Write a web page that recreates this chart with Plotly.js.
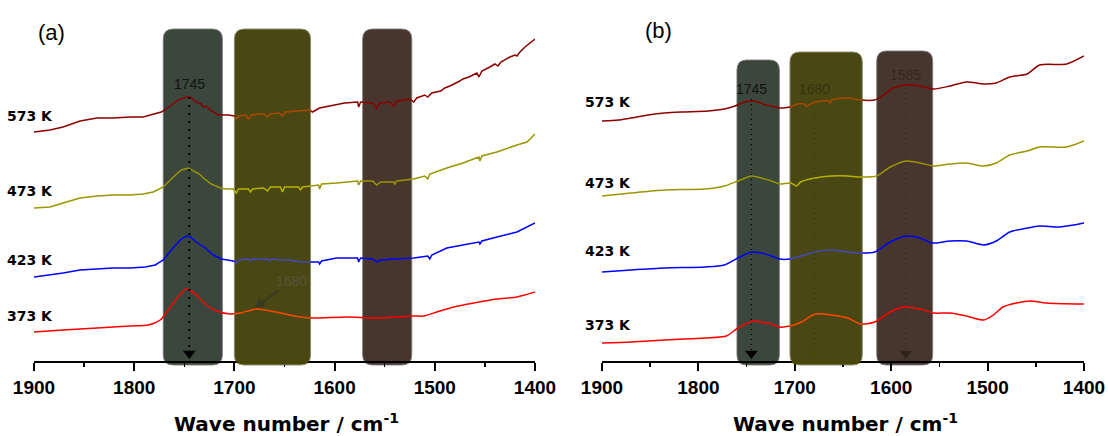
<!DOCTYPE html>
<html>
<head>
<meta charset="utf-8">
<script src="https://cdn.plot.ly/plotly-3.0.1.min.js"></script>
<style>
  html, body { margin: 0; padding: 0; background: #ffffff; }
  #chart { width: 1108px; height: 436px; }
</style>
</head>
<body>
<div id="chart"></div>
<script>
// ---- Spectra, panel (a): wavenumber (cm-1) and offset absorbance (a.u.) ----
const wnA573 = [1900,1884,1871,1854,1837,1821,1804,1791,1784,1773,1764,1756,1748,1744,1738,1733,1731,1728,1723,1716,1711,1706,1700,1698,1696,1689,1686,1683,1675,1670,1667,1664,1655,1652,1649,1640,1625,1622,1615,1605,1590,1577,1576,1574,1562,1558,1555,1545,1541,1538,1525,1521,1518,1510,1507,1503,1494,1490,1485,1475,1472,1466,1458,1456,1453,1445,1440,1437,1434,1425,1420,1418,1415,1410,1405,1400];
const absA573 = [2.29,2.31,2.34,2.40,2.43,2.43,2.44,2.44,2.46,2.49,2.55,2.61,2.64,2.64,2.59,2.57,2.54,2.55,2.50,2.46,2.46,2.46,2.45,2.42,2.45,2.46,2.42,2.46,2.47,2.47,2.44,2.47,2.48,2.45,2.49,2.50,2.51,2.49,2.53,2.55,2.58,2.59,2.54,2.59,2.58,2.53,2.58,2.59,2.55,2.60,2.62,2.59,2.63,2.66,2.64,2.68,2.70,2.73,2.75,2.80,2.82,2.84,2.88,2.84,2.90,2.94,2.97,2.95,2.99,3.04,3.06,3.05,3.09,3.14,3.18,3.22];

const wnA473 = [1900,1884,1871,1854,1837,1821,1804,1791,1781,1771,1761,1753,1746,1739,1735,1731,1723,1714,1708,1701,1698,1696,1686,1684,1682,1671,1667,1664,1654,1652,1650,1636,1634,1632,1616,1615,1613,1598,1577,1576,1574,1562,1558,1554,1541,1540,1538,1521,1510,1507,1505,1488,1472,1456,1455,1453,1438,1418,1408,1400];
const absA473 = [1.53,1.54,1.58,1.63,1.65,1.66,1.66,1.67,1.69,1.74,1.84,1.91,1.93,1.89,1.87,1.83,1.77,1.73,1.72,1.72,1.68,1.72,1.72,1.69,1.72,1.73,1.70,1.74,1.74,1.69,1.74,1.74,1.71,1.74,1.76,1.72,1.77,1.78,1.80,1.76,1.80,1.80,1.76,1.79,1.79,1.77,1.80,1.82,1.85,1.82,1.87,1.93,1.98,2.04,2.00,2.05,2.09,2.16,2.19,2.27];

const wnA423 = [1900,1884,1871,1854,1837,1821,1804,1789,1779,1771,1763,1754,1748,1744,1738,1729,1721,1713,1701,1698,1696,1686,1684,1682,1667,1665,1663,1654,1645,1634,1616,1615,1613,1598,1577,1576,1574,1562,1558,1554,1540,1521,1507,1505,1503,1488,1472,1456,1455,1453,1438,1418,1400];
const absA423 = [0.84,0.86,0.88,0.91,0.92,0.93,0.93,0.94,0.96,1.01,1.11,1.21,1.25,1.24,1.19,1.13,1.06,1.02,1.00,0.98,1.01,1.02,1.00,1.02,1.02,1.00,1.02,1.01,1.01,0.99,0.99,0.97,1.00,1.03,1.03,0.99,1.03,1.02,0.99,1.01,1.02,1.03,1.05,1.02,1.06,1.13,1.16,1.19,1.17,1.20,1.24,1.29,1.38];

const wnA373 = [1900,1871,1837,1804,1786,1774,1768,1761,1754,1748,1743,1736,1728,1718,1704,1694,1678,1664,1654,1645,1634,1621,1588,1558,1521,1511,1498,1481,1461,1438,1418,1400];
const absA373 = [0.29,0.31,0.33,0.35,0.36,0.41,0.48,0.58,0.67,0.72,0.70,0.64,0.56,0.50,0.47,0.48,0.52,0.50,0.48,0.46,0.44,0.43,0.44,0.43,0.45,0.45,0.49,0.54,0.58,0.62,0.64,0.69];

// ---- Spectra, panel (b) ----
const wnB573 = [1900,1883,1870,1852,1835,1818,1790,1773,1762,1752,1743,1735,1731,1724,1716,1705,1697,1690,1688,1679,1665,1663,1662,1645,1632,1617,1608,1598,1584,1570,1556,1539,1522,1504,1491,1477,1459,1446,1418,1400];
const absB573 = [2.40,2.41,2.43,2.46,2.48,2.49,2.50,2.52,2.55,2.59,2.60,2.58,2.56,2.55,2.53,2.54,2.57,2.57,2.55,2.59,2.60,2.58,2.61,2.63,2.61,2.61,2.66,2.73,2.76,2.75,2.72,2.75,2.79,2.77,2.78,2.84,2.87,2.96,2.97,3.05];

const wnB473 = [1900,1870,1835,1793,1773,1759,1745,1735,1724,1716,1704,1698,1694,1679,1662,1645,1632,1615,1601,1584,1570,1556,1539,1522,1504,1491,1477,1459,1446,1418,1400];
const absB473 = [1.65,1.68,1.71,1.72,1.75,1.80,1.85,1.83,1.80,1.77,1.78,1.75,1.79,1.83,1.85,1.85,1.84,1.85,1.94,2.00,1.98,1.95,1.97,1.98,1.95,1.98,2.06,2.10,2.14,2.14,2.20];

const wnB423 = [1900,1870,1835,1793,1773,1759,1745,1735,1724,1716,1705,1697,1679,1662,1645,1632,1617,1601,1584,1570,1558,1539,1522,1504,1491,1477,1459,1446,1425,1400];
const absB423 = [0.89,0.91,0.93,0.94,0.96,1.03,1.09,1.08,1.05,1.02,1.02,1.04,1.09,1.11,1.09,1.08,1.09,1.19,1.25,1.23,1.18,1.20,1.20,1.16,1.20,1.29,1.33,1.35,1.34,1.38];

const wnB373 = [1900,1870,1835,1793,1771,1759,1743,1735,1724,1716,1705,1693,1679,1662,1645,1632,1617,1601,1588,1570,1556,1539,1522,1504,1494,1484,1470,1456,1439,1400];
const absB373 = [0.18,0.19,0.21,0.23,0.25,0.33,0.40,0.39,0.37,0.34,0.35,0.39,0.47,0.46,0.43,0.37,0.39,0.49,0.54,0.52,0.48,0.48,0.45,0.41,0.46,0.54,0.58,0.60,0.58,0.57];

// ---- Labels and marked bands ----
const temps = ['573 K', '473 K', '423 K', '373 K'];
const colors = ['#8b0000', '#9a9600', '#0000ff', '#ff0000'];
const peaksA = [1745];
const peaksB = [1745, 1680, 1585];
const Y_MAX = 3.61;

// band: [high cm-1, low cm-1, top (a.u.), fill]
const bandsA = [[1771, 1712, 3.32, 'slate'], [1700, 1624, 3.32, 'olive'], [1572, 1523, 3.32, 'brown']];
const bandsB = [[1760, 1716, 3.01, 'slate'], [1705, 1630, 3.09, 'olive'], [1615, 1557, 3.10, 'brown']];
const BAND_BOTTOM = -0.04;

const fills = { slate: '#3b473c', olive: '#04001c', brown: '#47362d' };
const FONT = 'Liberation Sans, Arial, sans-serif';
const BOLD = 'DejaVu Sans, Verdana, sans-serif';

function line(x, y, color, xa, smooth) {
  const l = { color: color, width: 1.5 };
  if (smooth) { l.shape = 'spline'; l.smoothing = 0.7; }
  return { x: x, y: y, xaxis: xa, yaxis: 'y', mode: 'lines', hoverinfo: 'skip', line: l };
}

const traces = [
  line(wnA573, absA573, colors[0], 'x', false), line(wnA473, absA473, colors[1], 'x', false),
  line(wnA423, absA423, colors[2], 'x', false), line(wnA373, absA373, colors[3], 'x', true),
  line(wnB573, absB573, colors[0], 'x2', true), line(wnB473, absB473, colors[1], 'x2', true),
  line(wnB423, absB423, colors[2], 'x2', true), line(wnB373, absB373, colors[3], 'x2', true)
];

// arrowheads closing the dotted guides at the axis
const HEAD_Y = 0.075;
traces.push({ x: peaksA, y: peaksA.map(() => HEAD_Y), xaxis: 'x', yaxis: 'y', mode: 'markers',
              hoverinfo: 'skip', marker: { symbol: 'triangle-down', size: 11, color: '#000000' } });
traces.push({ x: peaksB, y: peaksB.map(() => HEAD_Y), xaxis: 'x2', yaxis: 'y', mode: 'markers',
              hoverinfo: 'skip', marker: { symbol: 'triangle-down', size: 11,
              color: ['#000000', 'rgba(0,0,0,0.4)', 'rgba(0,0,0,0.35)'] } });

// rounded band outline: x in cm-1, y in paper fraction
function bandPath(hi, lo, bottom, top) {
  const r = 10, rp = 0.028;
  return `M ${hi - r},${top} L ${lo + r},${top} Q ${lo},${top} ${lo},${top - rp} ` +
         `L ${lo},${bottom + rp} Q ${lo},${bottom} ${lo + r},${bottom} ` +
         `L ${hi - r},${bottom} Q ${hi},${bottom} ${hi},${bottom + rp} ` +
         `L ${hi},${top - rp} Q ${hi},${top} ${hi - r},${top} Z`;
}

const shapes = [];
function addBands(bands, xref) {
  bands.forEach(b => {
    const p = bandPath(b[0], b[1], BAND_BOTTOM / Y_MAX, b[2] / Y_MAX);
    shapes.push({ type: 'path', xref: xref, yref: 'paper', path: p, layer: 'below',
                  fillcolor: fills[b[3]], line: { color: 'rgba(120,120,120,0.85)', width: 1 } });
    if (b[3] === 'olive') {
      shapes.push({ type: 'path', xref: xref, yref: 'paper', path: p, layer: 'above',
                    fillcolor: 'rgba(255,255,0,0.28)', line: { width: 0 } });
    }
  });
}
addBands(bandsA, 'x');
addBands(bandsB, 'x2');

// dotted guides down to the axis
shapes.push({ type: 'line', xref: 'x', yref: 'y', x0: peaksA[0], x1: peaksA[0], y0: 2.64, y1: 0.11,
              line: { color: '#000000', width: 2, dash: '2px,6px' }, layer: 'above' });
const guideTopsB = [2.62, 2.48, 2.73];
const guideColorsB = ['#000000', 'rgba(0,0,0,0.3)', 'rgba(0,0,0,0.3)'];
peaksB.forEach((p, i) => {
  shapes.push({ type: 'line', xref: 'x2', yref: 'y', x0: p, x1: p, y0: guideTopsB[i], y1: 0.11,
                line: { color: guideColorsB[i], width: 1.2, dash: '1px,4px' }, layer: 'above' });
});

const annotations = [];
function txt(text, xref, yref, x, y, font) {
  annotations.push({ text: text, xref: xref, yref: yref, x: x, y: y, showarrow: false,
    xanchor: 'center', yanchor: 'middle', font: font });
}

// temperature labels
const labelYA = [2.455, 1.70, 1.01, 0.455];
const labelYB = [2.593, 1.783, 1.103, 0.36];
const tempFont = { family: BOLD, size: 14, color: '#000000', weight: 'bold' };
temps.forEach((t, i) => {
  txt(t, 'paper', 'y', 0.0271, labelYA[i], tempFont);
  txt(t, 'paper', 'y', 0.5487, labelYB[i], tempFont);
});

// panel tags
txt('(a)', 'paper', 'y', 0.0469, 3.29, { family: FONT, size: 22, color: '#000000' });
txt('(b)', 'paper', 'y', 0.5939, 3.31, { family: FONT, size: 22, color: '#000000' });

// axis titles
const titleFont = { family: BOLD, size: 20, color: '#000000', weight: 'bold' };
txt('Wave number / cm<sup>-1</sup>', 'paper', 'paper', 0.259, -0.172, titleFont);
txt('Wave number / cm<sup>-1</sup>', 'paper', 'paper', 0.763, -0.172, titleFont);

// peak positions
const peakFont = { family: FONT, size: 14, color: '#111111' };
const fadedFont = { family: FONT, size: 14, color: 'rgba(0,0,0,0.3)' };
txt(String(peaksA[0]), 'x', 'y', peaksA[0], 2.77, peakFont);
txt(String(peaksB[0]), 'x2', 'y', peaksB[0], 2.72, peakFont);
txt(String(peaksB[1]), 'x2', 'y', peaksB[1], 2.72, fadedFont);
txt(String(peaksB[2]), 'x2', 'y', peaksB[2], 2.86, fadedFont);
// 1680 shoulder of the 373 K spectrum, pointed at from above
annotations.push({ text: '1680', xref: 'x', yref: 'y', x: 1680, y: 0.53, ax: 37, ay: -27,
                   showarrow: true, arrowhead: 2, arrowsize: 1, arrowwidth: 2, arrowcolor: '#3a3a22',
                   font: { family: FONT, size: 14, color: '#56543a' } });

function xAxis(domain) {
  return {
    domain: domain, range: [1900, 1400], anchor: 'y', fixedrange: true,
    showline: true, linecolor: '#000000', linewidth: 2, mirror: false,
    showgrid: false, zeroline: false,
    tickmode: 'linear', tick0: 1400, dtick: 100,
    ticks: 'outside', ticklen: 8, tickwidth: 2, tickcolor: '#000000',
    minor: { dtick: 50, ticks: 'outside', ticklen: 4, tickwidth: 1.5, tickcolor: '#000000', showgrid: false },
    tickfont: { family: FONT, size: 19, color: '#000000', weight: 'bold' }
  };
}

const layout = {
  width: 1108, height: 436,
  margin: { l: 0, r: 0, t: 0, b: 75, pad: 0 },
  paper_bgcolor: '#ffffff', plot_bgcolor: 'rgba(0,0,0,0)',
  showlegend: false,
  xaxis: xAxis([34 / 1108, 535 / 1108]),
  xaxis2: xAxis([602 / 1108, 1084 / 1108]),
  yaxis: { range: [0, Y_MAX], visible: false, fixedrange: true, anchor: 'x' },
  shapes: shapes,
  annotations: annotations
};

Plotly.newPlot('chart', traces, layout, { displayModeBar: false, staticPlot: true });
</script>
</body>
</html>
